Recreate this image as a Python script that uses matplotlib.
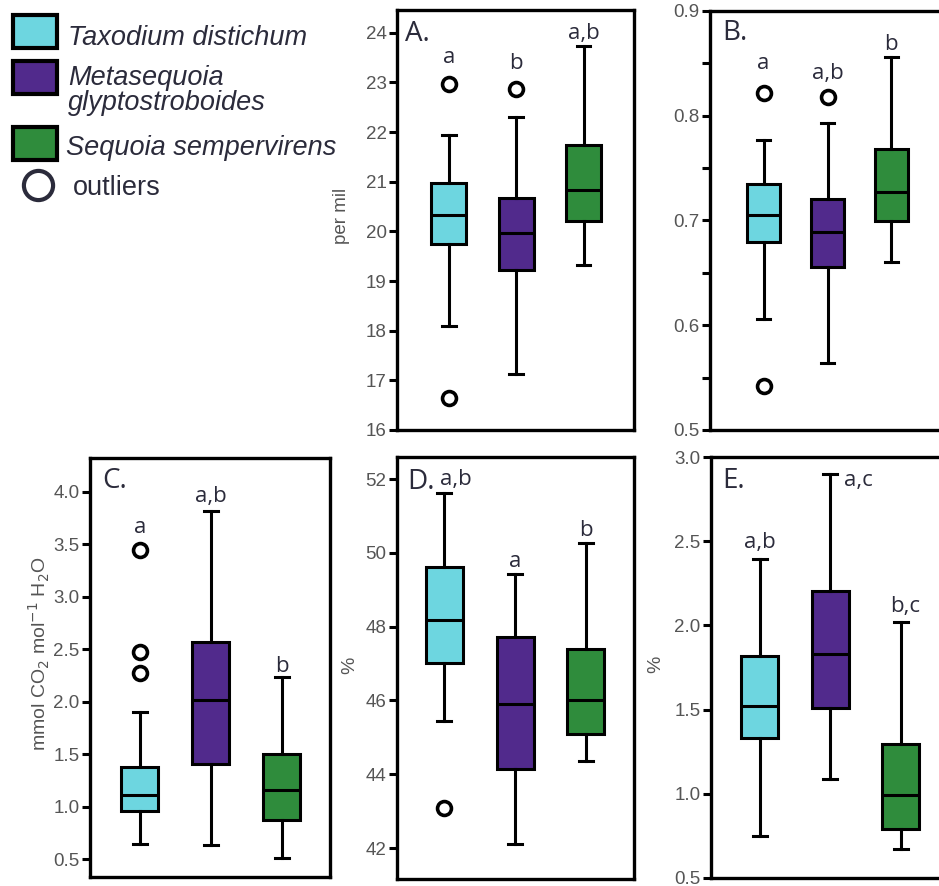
import matplotlib
matplotlib.use("Agg")
import matplotlib.pyplot as plt
from matplotlib.patches import Rectangle
from matplotlib.lines import Line2D
from matplotlib.ticker import MultipleLocator, FormatStrFormatter

# ---- data -------------------------------------------------------------
species = ["Taxodium distichum", "Metasequoia", "glyptostroboides", "Sequoia sempervirens"]
colors = ["#6dd6e0", "#512a8c", "#2f8c3c"]

# each row: lower whisker, Q1, median, Q3, upper whisker
A_box = [[18.09, 19.75, 20.33, 20.98, 21.94],
         [17.13, 19.22, 19.96, 20.68, 22.31],
         [19.32, 20.21, 20.83, 21.75, 23.73]]
A_out = [[22.97, 16.65], [22.87], []]
A_sig = ["a", "b", "a,b"]
A_sig_y = [23.39, 23.27, 23.88]

B_box = [[0.606, 0.679, 0.705, 0.735, 0.777],
         [0.564, 0.656, 0.689, 0.721, 0.793],
         [0.660, 0.700, 0.727, 0.768, 0.856]]
B_out = [[0.822, 0.542], [0.818], []]
B_sig = ["a", "a,b", "b"]
B_sig_y = [0.845, 0.835, 0.863]

C_box = [[0.643, 0.954, 1.110, 1.379, 1.897],
         [0.636, 1.404, 2.014, 2.572, 3.816],
         [0.510, 0.872, 1.157, 1.506, 2.230]]
C_out = [[3.445, 2.468, 2.268], [], []]
C_sig = ["a", "a,b", "b"]
C_sig_y = [3.61, 3.905, 2.28]

D_box = [[45.45, 47.01, 48.19, 49.63, 51.62],
         [42.12, 44.14, 45.90, 47.71, 49.43],
         [44.35, 45.09, 46.00, 47.39, 50.27]]
D_out = [[43.08], [], []]
D_sig = ["a,b", "a", "b"]
D_sig_y = [51.83, 49.63, 50.45]

E_box = [[0.747, 1.334, 1.524, 1.818, 2.397],
         [1.089, 1.508, 1.828, 2.206, 2.901],
         [0.672, 0.792, 0.990, 1.296, 2.018]]
E_out = [[], [], []]
E_sig = ["a,b", "a,c", "b,c"]
E_sig_y = [2.457, 2.83, 2.077]

# ---- style ------------------------------------------------------------
W, H = 939, 886
LW = 2.2
SPINE_LW = 2.4
TICK_COLOR = "#555555"
TEXT_COLOR = "#2b2b3b"
plt.rcParams["font.family"] = ["Liberation Sans", "DejaVu Sans"]

fig = plt.figure(figsize=(W / 100, H / 100), dpi=100)


def rect_px(left, top, right, bottom):
    return [left / W, 1 - bottom / H, (right - left) / W, (bottom - top) / H]


def fig_xy(x, y):
    return x / W, 1 - y / H


def draw_panel(rect, boxes, outliers, sig, sig_y, label, ylim, xlim, major,
               fmt, minor=None, sig_x=(1, 2, 3), sig_ha=("center",) * 3):
    ax = fig.add_axes(rect)
    stats = [dict(whislo=b[0], q1=b[1], med=b[2], q3=b[3], whishi=b[4], fliers=o)
             for b, o in zip(boxes, outliers)]
    bp = ax.bxp(stats, positions=[1, 2, 3], widths=0.52, capwidths=0.2,
                patch_artist=True, showfliers=True,
                boxprops=dict(linewidth=LW, edgecolor="black"),
                whiskerprops=dict(linewidth=LW, color="black"),
                capprops=dict(linewidth=LW, color="black"),
                medianprops=dict(linewidth=LW, color="black"),
                flierprops=dict(marker="o", markerfacecolor="white",
                                markeredgecolor="black", markersize=10,
                                markeredgewidth=2.6))
    for patch, c in zip(bp["boxes"], colors):
        patch.set_facecolor(c)
    ax.set_xlim(*xlim)
    ax.set_ylim(*ylim)
    ax.set_xticks([])
    ax.yaxis.set_major_locator(MultipleLocator(major))
    ax.yaxis.set_major_formatter(FormatStrFormatter(fmt))
    if minor:
        ax.yaxis.set_minor_locator(MultipleLocator(minor))
    ax.tick_params(axis="y", which="both", direction="out", length=6,
                   width=2.2, labelsize=13.5, labelcolor=TICK_COLOR, pad=1.5)
    for s in ax.spines.values():
        s.set_linewidth(SPINE_LW)
    for x, t, y, ha in zip(sig_x, sig, sig_y, sig_ha):
        ax.text(x, y, t, ha=ha, va="baseline", fontsize=16,
                family=["Open Sans", "DejaVu Sans"], color=TEXT_COLOR)
    ax.text(label[1], label[2], label[0], transform=ax.transAxes,
            ha="left", va="baseline", fontsize=20,
            family=["Open Sans", "DejaVu Sans"], color=TEXT_COLOR)
    return ax


draw_panel(rect_px(397, 10, 634, 430), A_box, A_out, A_sig, A_sig_y,
           ("A.", 0.034, 0.926), (16, 24.46), (0.23, 3.75), 1, "%d")
draw_panel(rect_px(710, 11, 947, 430), B_box, B_out, B_sig, B_sig_y,
           ("B.", 0.05, 0.931), (0.5, 0.9), (0.16, 3.87), 0.1, "%.1f",
           minor=0.05)
draw_panel(rect_px(90, 458, 330, 877), C_box, C_out, C_sig, C_sig_y,
           ("C.", 0.05, 0.928), (0.33, 4.32), (0.30, 3.68), 0.5, "%.1f")
draw_panel(rect_px(397, 457, 634, 879), D_box, D_out, D_sig, D_sig_y,
           ("D.", 0.042, 0.924), (41.16, 52.6), (0.33, 3.68), 2, "%d",
           sig_x=(1.16, 2, 3))
draw_panel(rect_px(711, 457, 948, 878), E_box, E_out, E_sig, E_sig_y,
           ("E.", 0.046, 0.926), (0.5, 3.0), (0.31, 3.67), 0.5, "%.1f",
           sig_x=(1, 2.2, 3.06), sig_ha=("center", "left", "center"))

# ---- axis titles --------------------------------------------------------
fig.text(*fig_xy(342, 216), "per mil", rotation=90, ha="center", va="center",
         fontsize=13.5, color=TICK_COLOR)
fig.text(*fig_xy(39, 654), r"mmol CO$_2$ mol$^{-1}$ H$_2$O", rotation=90,
         ha="center", va="center", fontsize=14, color=TICK_COLOR)
fig.text(*fig_xy(350, 665), "%", rotation=90, ha="center", va="center",
         fontsize=14, color=TICK_COLOR)
fig.text(*fig_xy(656, 664), "%", rotation=90, ha="center", va="center",
         fontsize=14, color=TICK_COLOR)

# ---- legend -------------------------------------------------------------
patch_tops = [15, 61, 127]
for top, c in zip(patch_tops, colors):
    x0, y0 = fig_xy(13, top + 33)
    fig.add_artist(Rectangle((x0, y0), 44 / W, 33 / H, transform=fig.transFigure,
                             facecolor=c, edgecolor="black", linewidth=3))

legend_text = [(68, 45, species[0]), (68, 85, species[1]),
               (68, 110, species[2]), (66, 155, species[3])]
for x, y, t in legend_text:
    fig.text(*fig_xy(x, y), t, ha="left", va="baseline", fontsize=19.5,
             style="italic", color=TEXT_COLOR)

cx, cy = fig_xy(38, 185)
fig.add_artist(Line2D([cx], [cy], transform=fig.transFigure, marker="o",
                      markersize=21, markerfacecolor="white",
                      markeredgecolor=TEXT_COLOR, markeredgewidth=3))
fig.text(*fig_xy(73, 195), "outliers", ha="left", va="baseline", fontsize=19.5,
         color=TEXT_COLOR)

fig.savefig("out.png", dpi=100)
